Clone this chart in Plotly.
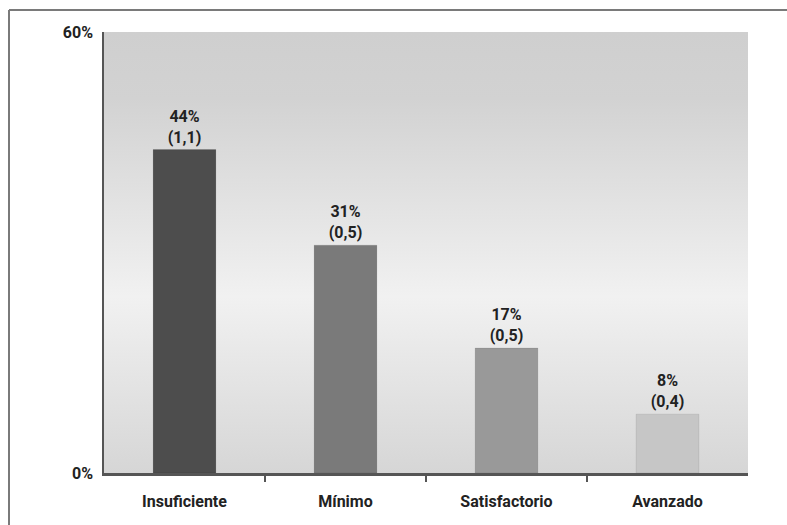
import base64
import plotly.graph_objects as go

categories = ["Insuficiente", "Mínimo", "Satisfactorio", "Avanzado"]
percentages = [44, 31, 17, 8]
std_errors = ["1,1", "0,5", "0,5", "0,4"]
bar_colors = ["#4d4d4d", "#7a7a7a", "#999999", "#c6c6c6"]
y_tick_vals = [0, 60]
y_tick_text = ["0%", "60%"]

FONT = "Roboto, Liberation Sans, sans-serif"

labels = [f"{p}%<br>({e})" for p, e in zip(percentages, std_errors)]

svg = (
    '<svg xmlns="http://www.w3.org/2000/svg" width="100" height="100" '
    'viewBox="0 0 100 100" preserveAspectRatio="none">'
    '<defs><linearGradient id="g" x1="0" y1="0" x2="0" y2="1">'
    '<stop offset="0" stop-color="#cfcfcf"/>'
    '<stop offset="0.15" stop-color="#d2d2d2"/>'
    '<stop offset="0.6" stop-color="#f1f1f1"/>'
    '<stop offset="1" stop-color="#d6d6d6"/>'
    '</linearGradient></defs>'
    '<rect x="0" y="0" width="100" height="100" fill="url(#g)"/></svg>'
)
svg_uri = "data:image/svg+xml;base64," + base64.b64encode(svg.encode()).decode()

fig = go.Figure()
fig.add_trace(go.Bar(
    x=categories,
    y=percentages,
    marker=dict(color=bar_colors, line=dict(color="rgba(0,0,0,0.08)", width=1)),
    text=labels,
    textposition="outside",
    cliponaxis=False,
    textfont=dict(family=FONT, size=16, color="#222222", weight="bold"),
    hoverinfo="skip",
))
# invisible trace to activate the boundary-tick axis
fig.add_trace(go.Scatter(x=[0.5, 1.5, 2.5], y=[0, 0, 0], xaxis="x2", mode="markers",
                         marker=dict(opacity=0), hoverinfo="skip", showlegend=False))

W, H = 787, 525
L, R, T, B = 104, 39, 32, 52
pw, ph = W - L - R, H - T - B

def px_to_paper_x(px):
    return (px - L) / pw

def px_to_paper_y(py):
    return (H - B - py) / ph

fig.update_layout(
    width=W, height=H,
    margin=dict(l=L, r=R, t=T, b=B),
    paper_bgcolor="white",
    plot_bgcolor="rgba(0,0,0,0)",
    showlegend=False,
    bargap=0.61,
    font=dict(family=FONT, size=16, color="#222222", weight="bold"),
    images=[dict(source=svg_uri, xref="paper", yref="paper", x=0, y=1,
                 sizex=1, sizey=1, sizing="stretch", xanchor="left",
                 yanchor="top", layer="below")],
    xaxis=dict(
        type="category",
        showline=True, linecolor="#555555", linewidth=2.5,
        ticks="outside", ticklen=12, tickcolor="rgba(0,0,0,0)",
        showgrid=False, zeroline=False,
        tickfont=dict(family=FONT, size=16, color="#222222", weight="bold"),
    ),
    xaxis2=dict(
        overlaying="x", anchor="y", range=[-0.5, 3.5],
        tickvals=[0.5, 1.5, 2.5], ticks="outside", ticklen=8, tickwidth=1.5,
        tickcolor="#555555", showticklabels=False, showgrid=False,
        zeroline=False, showline=False, side="bottom",
    ),
    yaxis=dict(
        range=[0, 60], tickvals=y_tick_vals, ticktext=y_tick_text,
        showline=True, linecolor="#555555", linewidth=1.5,
        showgrid=False, zeroline=False,
        ticks="outside", ticklen=6, tickcolor="rgba(0,0,0,0)",
        tickfont=dict(family=FONT, size=16, color="#222222", weight="bold"),
    ),
    shapes=[
        dict(type="line", xref="paper", yref="paper",
             x0=px_to_paper_x(9), x1=px_to_paper_x(800),
             y0=px_to_paper_y(10), y1=px_to_paper_y(10),
             line=dict(color="#7a7a7a", width=2)),
        dict(type="line", xref="paper", yref="paper",
             x0=px_to_paper_x(9), x1=px_to_paper_x(9),
             y0=px_to_paper_y(10), y1=px_to_paper_y(540),
             line=dict(color="#7a7a7a", width=2)),
    ],
)

fig.write_html("out.html")
